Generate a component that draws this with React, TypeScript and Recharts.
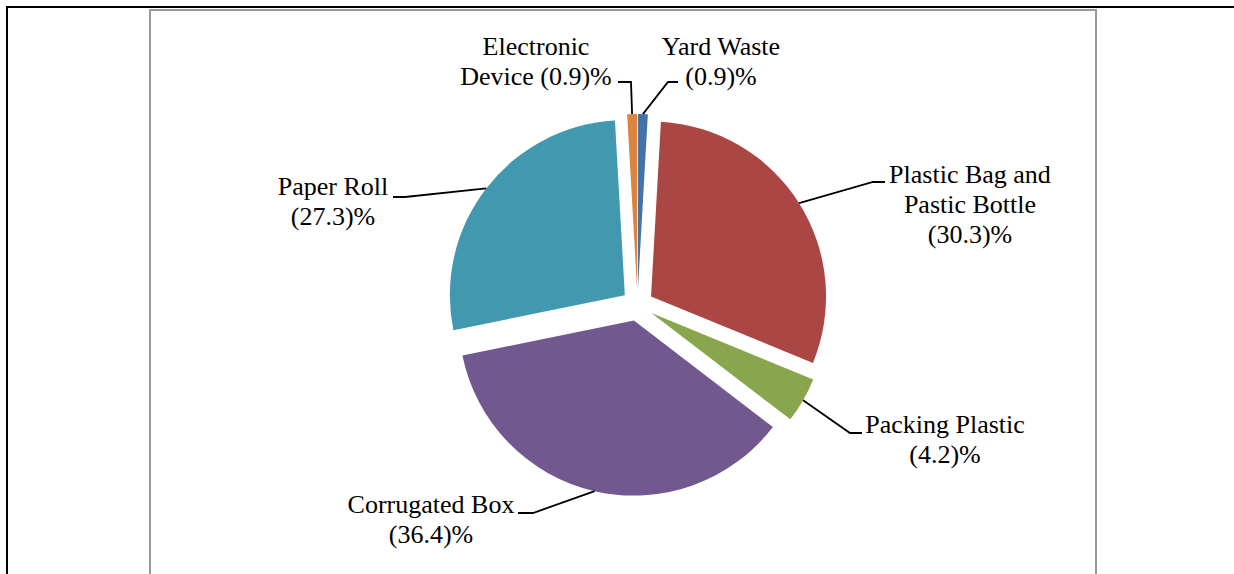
import React from 'react';
import { PieChart, Pie, Cell } from 'recharts';

// slices in drawing order, clockwise from 12 o'clock
const categories = ['Yard Waste', 'Plastic Bag and Pastic Bottle', 'Packing Plastic', 'Corrugated Box', 'Paper Roll', 'Electronic Device'];
const shares = [0.9, 30.3, 4.2, 36.4, 27.3, 0.9];
const labelText = [
  ['Yard Waste', '(0.9)%'],
  ['Plastic Bag and', 'Pastic Bottle', '(30.3)%'],
  ['Packing Plastic', '(4.2)%'],
  ['Corrugated Box', '(36.4)%'],
  ['Paper Roll', '(27.3)%'],
  ['Electronic', 'Device (0.9)%'],
];

const COLORS = ['#4572A7', '#AA4643', '#89A54E', '#71588F', '#4198AF', '#DB843D'];

// label placement inside the chart box (elbow of leader, end of leader, text centre, first baseline)
const LABEL_POS = [
  { elbow: [517, 71], end: [527, 71], tx: 570, ty: 44 },
  { elbow: [722, 171], end: [734, 171], tx: 819, ty: 172 },
  { elbow: [699, 422], end: [711, 422], tx: 794, ty: 422 },
  { elbow: [382, 502], end: [367, 502], tx: 280, ty: 502 },
  { elbow: [254, 186], end: [242, 186], tx: 182, ty: 184 },
  { elbow: [480, 71], end: [467, 71], tx: 385, ty: 44 },
];

const CX = 486.5;
const CY = 294;
const RADIUS = 175;
const EXPLODE = 16;
const LINE_H = 30;
const RAD = Math.PI / 180;

const data = categories.map((name, i) => ({ name, value: shares[i] }));

// mid angle of each slice in recharts degrees (start 90, going clockwise)
const total = shares.reduce((s, v) => s + v, 0);
const midAngles: number[] = [];
let acc = 0;
shares.forEach((v) => {
  midAngles.push(90 - ((acc + v / 2) / total) * 360);
  acc += v;
});

const makeLabel = (target: number) => (props: any) => {
  if (props.index !== target) return <g />;
  const { cx, cy, midAngle, outerRadius } = props;
  const sx = cx + outerRadius * Math.cos(-midAngle * RAD);
  const sy = cy + outerRadius * Math.sin(-midAngle * RAD);
  const pos = LABEL_POS[target];
  return (
    <g>
      <path
        d={`M${sx},${sy}L${pos.elbow[0]},${pos.elbow[1]}L${pos.end[0]},${pos.end[1]}`}
        stroke="#000"
        strokeWidth={1.8}
        fill="none"
      />
      <text x={pos.tx} y={pos.ty} textAnchor="middle" fontFamily="'Liberation Serif', 'Times New Roman', serif" fontSize={26} fill="#000">
        {labelText[target].map((line, k) => (
          <tspan key={k} x={pos.tx} y={pos.ty + k * LINE_H}>{line}</tspan>
        ))}
      </text>
    </g>
  );
};

export default function App() {
  return (
    <div style={{ position: 'absolute', left: 0, top: 0, width: 1234, height: 574, overflow: 'hidden', background: '#fff' }}>
      {/* outer frame */}
      <div style={{ position: 'absolute', left: 6, top: 6, width: 1300, height: 700, borderTop: '2px solid #000', borderLeft: '2px solid #000' }} />
      {/* chart box */}
      <div style={{ position: 'absolute', left: 149, top: 9, width: 944, height: 700, border: '2px solid #999', background: '#fff' }}>
        <PieChart width={944} height={563} margin={{ top: 0, right: 0, bottom: 0, left: 0 }}>
          {data.map((_, target) => (
            <Pie
              key={target}
              data={data}
              dataKey="value"
              nameKey="name"
              cx={CX + EXPLODE * Math.cos(-midAngles[target] * RAD)}
              cy={CY + EXPLODE * Math.sin(-midAngles[target] * RAD)}
              outerRadius={RADIUS}
              startAngle={90}
              endAngle={-270}
              stroke="none"
              labelLine={false}
              label={makeLabel(target)}
              isAnimationActive={false}
            >
              {data.map((d, i) => (
                <Cell key={d.name} fill={i === target ? COLORS[i] : 'transparent'} />
              ))}
            </Pie>
          ))}
        </PieChart>
      </div>
    </div>
  );
}
